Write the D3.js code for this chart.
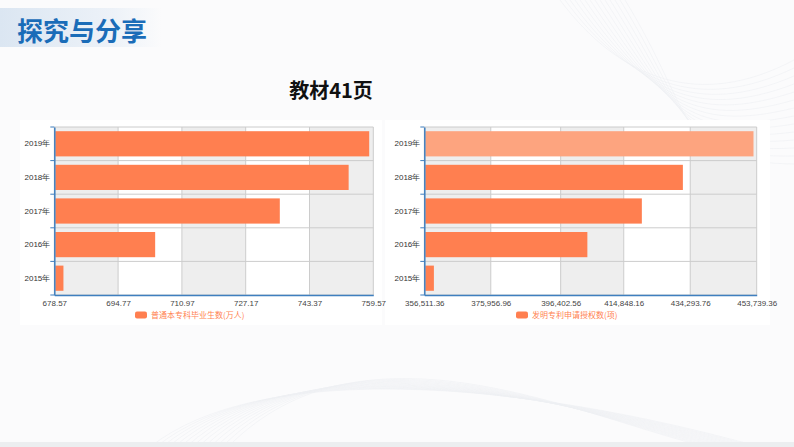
<!DOCTYPE html>
<html>
<head>
<meta charset="utf-8">
<script src="https://cdn.jsdelivr.net/npm/d3@7"></script>
<style>
  html, body { margin: 0; padding: 0; background: #fbfbfc; }
  svg { display: block; font-family: "Noto Sans CJK SC", "Liberation Sans", sans-serif; }
</style>
</head>
<body>
<svg id="page" width="794" height="447"></svg>
<script>
// data
var years = ["2015年", "2016年", "2017年", "2018年", "2019年"];
var graduates = [680.89, 704.18, 735.83, 753.31, 758.53];
var patents = [359316, 404208, 420144, 432147, 452804];
var gradTicks = [678.57, 694.77, 710.97, 727.17, 743.37, 759.57];
var patentTicks = [356511.36, 375956.96, 396402.56, 414848.16, 434293.76, 453739.36];
var gradLegend = "普通本专科毕业生数(万人)";
var patentLegend = "发明专利申请授权数(项)";

var svg = d3.select("#page");
var defs = svg.append("defs");

// header band
var grad = defs.append("linearGradient").attr("id", "hdr");
grad.append("stop").attr("offset", "0%").attr("stop-color", "#dbe6f2");
grad.append("stop").attr("offset", "70%").attr("stop-color", "#edf2f8");
grad.append("stop").attr("offset", "100%").attr("stop-color", "#fbfbfc");

// faint swooshes in the background
var swoosh = svg.append("g").attr("fill", "none").attr("stroke", "#eef0f3").attr("stroke-width", 0.6);
for (var i = 0; i < 14; i++) {
    swoosh.append("path")
	.attr("d", "M" + (150 + i * 6) + ",447 C" + (260 + i * 8) + "," + (360 - i * 4) + " "
	      + (520 + i * 5) + "," + (380 + i * 3) + " " + (760 - i * 4) + ",447");
    swoosh.append("path")
	.attr("d", "M" + (560 + i * 5) + ",0 C" + (620 + i * 6) + "," + (80 + i * 3) + " "
	      + (700 - i * 2) + "," + (110 + i * 4) + " 794," + (60 + i * 8));
}
svg.append("rect").attr("x", 0).attr("y", 442).attr("width", 794).attr("height", 5).attr("fill", "#eceef0");

svg.append("rect")
    .attr("x", 0).attr("y", 8).attr("width", 162).attr("height", 39)
    .attr("fill", "url(#hdr)");
svg.append("text")
    .attr("x", 17).attr("y", 41)
    .attr("font-size", 26).attr("font-weight", "bold")
    .attr("fill", "#1a6cb8")
    .text("探究与分享");

svg.append("text")
    .attr("x", 331).attr("y", 98)
    .attr("text-anchor", "middle")
    .attr("font-size", 20).attr("font-weight", "bold")
    .attr("fill", "#111")
    .text("教材41页");

// white panels behind both charts
[[20, 362], [385, 385]].forEach(function(p){
    svg.append("rect")
	.attr("x", p[0]).attr("y", 120)
	.attr("width", p[1]).attr("height", 205)
	.attr("fill", "#ffffff");
});

var draw_chart = function(opt)
{
    var g = svg.append("g");

    var x = d3.scaleLinear()
	.domain([opt.ticks[0], opt.ticks[opt.ticks.length - 1]])
	.range([opt.left, opt.right]);

    var y = d3.scaleBand()
	.domain(years.slice().reverse())
	.range([127, 295])
	.paddingInner(0.25)
	.paddingOuter(0.125);

    // split areas
    for (var k = 0; k < opt.ticks.length - 1; k++) {
	g.append("rect")
	    .attr("x", x(opt.ticks[k])).attr("y", 127)
	    .attr("width", x(opt.ticks[k + 1]) - x(opt.ticks[k]))
	    .attr("height", 168)
	    .attr("fill", k % 2 == 0 ? "#eeeeee" : "#ffffff");
    }

    // grid lines
    g.append("g").selectAll("line")
	.data(opt.ticks)
	.enter().append("line")
	.attr("x1", function(d){ return x(d); })
	.attr("x2", function(d){ return x(d); })
	.attr("y1", 127).attr("y2", 295)
	.attr("stroke", "#cccccc").attr("stroke-width", 1);

    var step = y.step();
    var bounds = d3.range(years.length + 1).map(function(i){ return 127 + i * step; });
    g.append("g").selectAll("line")
	.data(bounds)
	.enter().append("line")
	.attr("x1", opt.left).attr("x2", opt.right)
	.attr("y1", function(d){ return d; })
	.attr("y2", function(d){ return d; })
	.attr("stroke", "#cccccc").attr("stroke-width", 1);

    // bars
    g.append("g").selectAll("rect")
	.data(opt.values)
	.enter().append("rect")
	.attr("x", opt.left + 1)
	.attr("y", function(d, i){ return y(years[i]); })
	.attr("width", function(d){ return x(d) - opt.left - 1; })
	.attr("height", y.bandwidth())
	.attr("fill", function(d, i){
	    return (opt.highlight === i) ? "#fda47f" : "#ff7f50";
	});

    // y axis
    var ya = g.append("g")
	.attr("transform", "translate(" + opt.left + ",0)")
	.call(d3.axisLeft(y).tickSize(0).tickPadding(4));
    ya.select(".domain").attr("stroke", "#3f7fbf").attr("stroke-width", 1.5);
    ya.selectAll("text").attr("font-size", 8).attr("fill", "#333");
    g.append("g").selectAll("line")
	.data(bounds)
	.enter().append("line")
	.attr("x1", opt.left - 4).attr("x2", opt.left)
	.attr("y1", function(d){ return d; })
	.attr("y2", function(d){ return d; })
	.attr("stroke", "#3f7fbf").attr("stroke-width", 1);

    // x axis
    var xa = g.append("g")
	.attr("transform", "translate(0,295)")
	.call(d3.axisBottom(x).tickValues(opt.ticks).tickSize(0).tickPadding(5)
	      .tickFormat(opt.format));
    xa.select(".domain").attr("stroke", "#3f7fbf").attr("stroke-width", 1.5);
    xa.selectAll("text").attr("font-size", 8).attr("fill", "#444");

    // legend
    g.append("rect")
	.attr("x", opt.legendX).attr("y", 311.5)
	.attr("width", 12).attr("height", 7).attr("rx", 2)
	.attr("fill", "#ff7f50");
    g.append("text")
	.attr("x", opt.legendX + 16).attr("y", 318)
	.attr("font-size", 8).attr("fill", "#ff7f50")
	.text(opt.legend);
};

draw_chart({
    left: 54.3, right: 373.3,
    ticks: gradTicks,
    values: graduates,
    format: d3.format(".2f"),
    legendX: 135,
    legend: gradLegend
});

draw_chart({
    left: 424.3, right: 756.7,
    ticks: patentTicks,
    values: patents,
    format: d3.format(",.2f"),
    legendX: 516,
    legend: patentLegend,
    highlight: 4
});
</script>
</body>
</html>
